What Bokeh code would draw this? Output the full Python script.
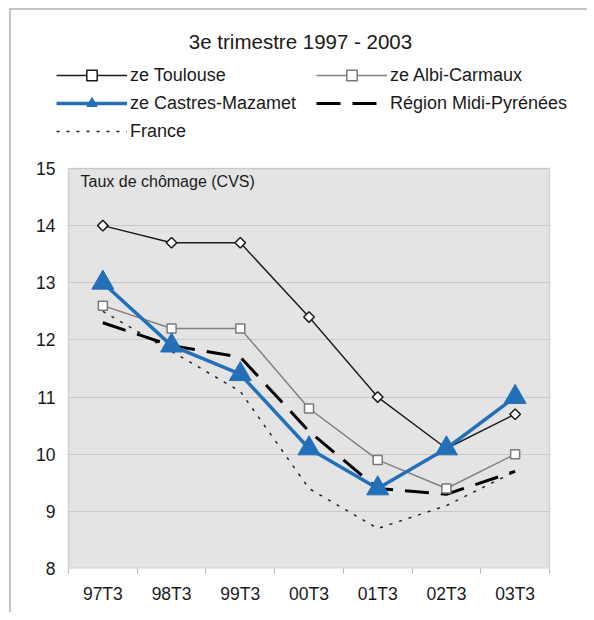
import math
from bokeh.plotting import figure
from bokeh.models import (Range1d, FixedTicker, Legend, LegendItem, Label, BoxAnnotation,
                          ColumnDataSource)
from bokeh.embed import file_html
from bokeh.resources import INLINE

# ---- data ----
periods = ["97T3", "98T3", "99T3", "00T3", "01T3", "02T3", "03T3"]
toulouse = [14.0, 13.7, 13.7, 12.4, 11.0, 10.1, 10.7]
albi = [12.6, 12.2, 12.2, 10.8, 9.9, 9.4, 10.0]
castres = [13.0, 11.9, 11.4, 10.1, 9.4, 10.1, 11.0]
region = [12.3, 11.9, 11.7, 10.4, 9.4, 9.3, 9.7]
france = [12.5, 11.8, 11.1, 9.4, 8.7, 9.1, 9.7]
series_names = ["ze Toulouse", "ze Albi-Carmaux", "ze Castres-Mazamet",
                "Région Midi-Pyrénées", "France"]
title_text = "3e trimestre 1997 - 2003"
y_label_text = "Taux de chômage (CVS)"
y_ticks = [8, 9, 10, 11, 12, 13, 14, 15]
y_min, y_max = y_ticks[0], y_ticks[-1]
n = len(periods)

xs = [i + 0.5 for i in range(n)]
src = ColumnDataSource(dict(x=xs, toulouse=toulouse, albi=albi, castres=castres,
                            region=region, france=france))

FONT = "Liberation Sans"
TXT = "#1a1a1a"
BLUE = "#2370b8"

# layout (pixels): plot area 481 x 400, frame extended to hold legend & title
PLOT_W, PLOT_H = 481, 400
EXTRA_L, EXTRA_R, EXTRA_T = 12, 30, 158
FRAME_W, FRAME_H = PLOT_W + EXTRA_L + EXTRA_R, PLOT_H + EXTRA_T
x_lo = -EXTRA_L * n / PLOT_W
x_hi = n + EXTRA_R * n / PLOT_W
y_hi = y_max + EXTRA_T * (y_max - y_min) / PLOT_H

p = figure(frame_width=FRAME_W, frame_height=FRAME_H,
           min_border_left=45, min_border_right=8, min_border_top=0, min_border_bottom=44,
           x_range=Range1d(x_lo, x_hi), y_range=Range1d(y_min, y_hi),
           output_backend="svg", toolbar_location=None, tools="")
p.styles = {"border-left": "2px solid #c4c4c4", "border-top": "2px solid #c4c4c4",
            "margin-left": "9px", "margin-top": "8px"}
p.background_fill_color = "white"
p.border_fill_color = "white"
p.outline_line_color = None

# plot area background
p.add_layout(BoxAnnotation(left=0, right=n, bottom=y_min, top=y_max, level="image",
                           fill_color="#e4e4e4", fill_alpha=1,
                           line_color="#8a8a8a", line_width=1.5))

p.xgrid.grid_line_color = None
p.ygrid.grid_line_color = "#c9c9c9"
p.ygrid.grid_line_width = 1
try:
    p.ygrid[0].cross_bounds = (0, n)
except Exception:
    pass

# x axis: labels at centres, small ticks at category boundaries
p.xaxis.ticker = FixedTicker(ticks=xs, minor_ticks=list(range(n + 1)))
p.xaxis.major_label_overrides = {x: lab for x, lab in zip(xs, periods)}
p.xaxis.axis_line_color = None
p.xaxis.major_tick_line_color = None
p.xaxis.major_tick_in = 0
p.xaxis.major_tick_out = 0
p.xaxis.minor_tick_line_color = "#b5b5b5"
p.xaxis.minor_tick_in = 0
p.xaxis.minor_tick_out = 5
p.xaxis.major_label_standoff = 10
p.xaxis.major_label_text_font = FONT
p.xaxis.major_label_text_font_size = "17.5px"
p.xaxis.major_label_text_color = TXT

p.yaxis.ticker = FixedTicker(ticks=y_ticks, minor_ticks=[])
p.yaxis.axis_line_color = None
p.yaxis.major_tick_line_color = None
p.yaxis.major_tick_in = 0
p.yaxis.major_tick_out = 0
p.yaxis.minor_tick_line_color = None
p.yaxis.major_label_standoff = 1
p.yaxis.major_label_text_font = FONT
p.yaxis.major_label_text_font_size = "17.5px"
p.yaxis.major_label_text_color = TXT

# ---- series ----
r_fr = p.line("x", "france", source=src, line_color="#222222", line_width=1.5, line_dash="3 7")
r_rg = p.line("x", "region", source=src, line_color="black", line_width=3, line_dash="24 12")
r_al = p.line("x", "albi", source=src, line_color="#808080", line_width=1.5)
m_al = p.scatter("x", "albi", source=src, marker="square", size=9,
                 fill_color="white", line_color="#7a7a7a", line_width=1.5)
r_tl = p.line("x", "toulouse", source=src, line_color="#1a1a1a", line_width=1.4)
m_tl = p.scatter("x", "toulouse", source=src, marker="square", angle=math.pi / 4, size=7.5,
                 fill_color="white", line_color="#1a1a1a", line_width=1.5)
r_cs = p.line("x", "castres", source=src, line_color=BLUE, line_width=3.5)
m_cs = p.scatter("x", "castres", source=src, marker="triangle", size=22,
                 fill_color=BLUE, line_color=BLUE)

legend = Legend(items=[
    LegendItem(label=series_names[0], renderers=[r_tl, m_tl]),
    LegendItem(label=series_names[1], renderers=[r_al, m_al]),
    LegendItem(label=series_names[2], renderers=[r_cs, m_cs]),
    LegendItem(label=series_names[3], renderers=[r_rg]),
    LegendItem(label=series_names[4], renderers=[r_fr]),
], orientation="horizontal", ncols=2, location=(0, 424),
    glyph_width=71, glyph_height=26, label_height=26, label_width=184,
    label_standoff=3, spacing=2, padding=0, margin=0,
    border_line_color=None, background_fill_alpha=0,
    label_text_font=FONT, label_text_font_size="18px", label_text_color=TXT)
p.add_layout(legend, "center")

p.add_layout(Label(x=244, y=527.5, x_units="screen", y_units="screen", text=title_text,
                   text_align="center", text_baseline="middle", text_font=FONT,
                   text_font_size="20.5px", text_color=TXT))
p.add_layout(Label(x=24, y=387.5, x_units="screen", y_units="screen", text=y_label_text,
                   text_align="left", text_baseline="middle", text_font=FONT,
                   text_font_size="16px", text_color=TXT))

open("out.html", "w").write(file_html(p, INLINE))
